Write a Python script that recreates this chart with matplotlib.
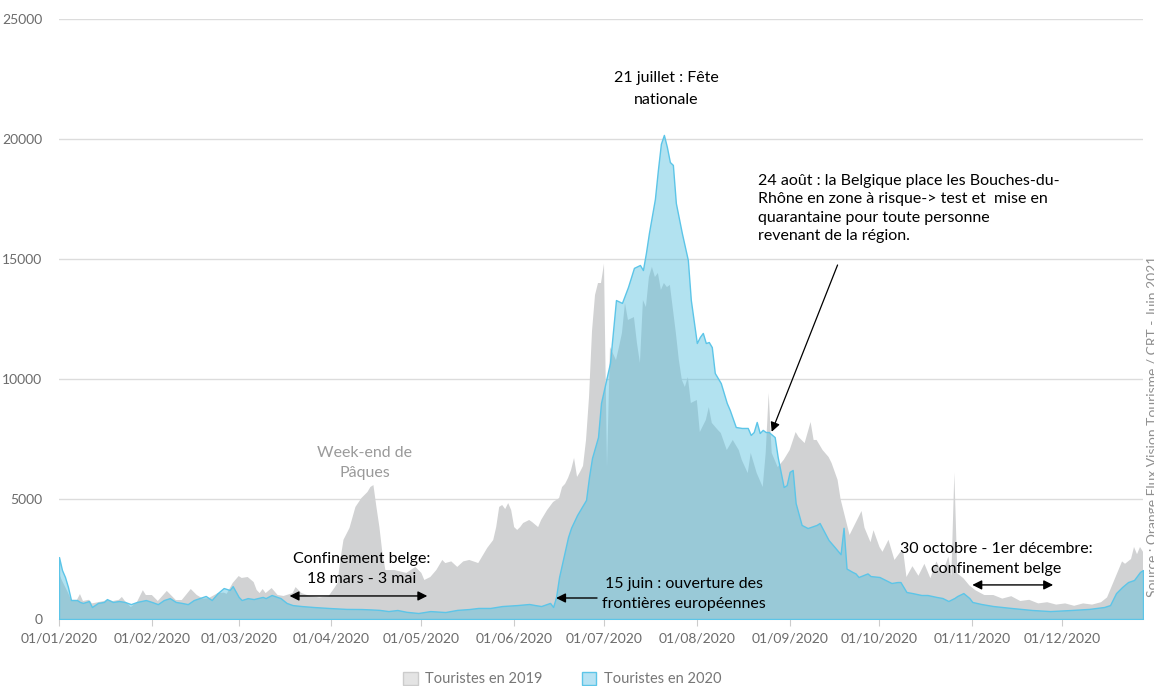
import matplotlib
matplotlib.use("Agg")
import matplotlib.pyplot as plt
import matplotlib.dates as mdates
from matplotlib.colors import to_rgba
from matplotlib.patches import Patch
import pandas as pd

# ---------------- data ----------------
dates_2020 = ["01-01","01-02","01-03","01-04","01-05","01-07","01-08","01-09","01-11","01-12",
              "01-14","01-16","01-17","01-19","01-21","01-23","01-25","01-27","01-30","02-01",
              "02-03","02-05","02-07","02-09","02-11","02-13","02-15","02-19","02-21","02-23",
              "02-25","02-27","02-28","03-01","03-02","03-04","03-06","03-09","03-10","03-12",
              "03-15","03-17","03-19","03-22","03-26","03-31","04-06","04-11","04-14","04-17",
              "04-20","04-23","04-26","04-30","05-04","05-09","05-13","05-17","05-20","05-24",
              "05-28","06-02","06-06","06-08","06-10","06-13","06-14","06-15","06-16","06-19",
              "06-20","06-22","06-24","06-25","06-26","06-27","06-29","06-30","07-03","07-05",
              "07-07","07-09","07-11","07-13","07-14","07-15","07-16","07-18","07-19","07-20",
              "07-21","07-22","07-23","07-24","07-25","07-27","07-29","07-30","08-01","08-02",
              "08-03","08-04","08-05","08-06","08-07","08-09","08-11","08-12","08-14","08-16",
              "08-18","08-19","08-20","08-21","08-22","08-23","08-24","08-25","08-27","08-28",
              "08-30","08-31","09-01","09-02","09-03","09-05","09-07","09-10","09-11","09-14",
              "09-16","09-18","09-19","09-20","09-22","09-23","09-24","09-27","09-28","10-01",
              "10-03","10-05","10-07","10-08","10-10","10-12","10-15","10-17","10-20","10-22",
              "10-24","10-26","10-27","10-29","10-31","11-01","11-04","11-08","11-14","11-21",
              "11-27","12-04","12-10","12-15","12-17","12-19","12-21","12-23","12-25","12-27",
              "12-28"]
tourists_2020 = [2580,2040,1750,1330,790,790,710,670,750,500,
                 670,710,830,710,750,710,620,710,790,710,
                 620,790,870,710,670,620,790,960,790,1080,
                 1290,1210,1370,920,790,870,830,920,870,1000,
                 870,670,580,540,500,460,420,415,400,380,
                 330,375,300,250,330,290,380,415,460,460,
                 540,580,625,580,540,670,500,920,1750,3420,
                 3800,4330,4750,4960,5920,6710,7580,9000,10670,13290,
                 13170,13830,14630,14750,14540,15250,16080,17500,18710,19800,
                 20170,19670,19040,18920,17330,16080,14960,13290,11500,11750,
                 11920,11500,11540,11330,10250,9830,9000,8710,8000,7960,
                 7960,7670,7790,8210,7750,7880,7790,7790,7580,6750,
                 5500,5580,6130,6210,4830,3920,3790,3920,4000,3290,
                 3000,2700,3800,2100,1960,1900,1750,1900,1790,1750,
                 1625,1500,1540,1540,1125,1080,1000,1000,920,875,
                 750,875,960,1080,875,710,625,540,460,375,
                 330,375,420,500,580,1080,1330,1540,1625,1960,
                 2040]

dates_2019 = ["01-01","01-02","01-04","01-05","01-07","01-08","01-09","01-11","01-12","01-14",
              "01-16","01-17","01-19","01-21","01-22","01-23","01-25","01-27","01-29","01-30",
              "02-01","02-03","02-06","02-09","02-11","02-14","02-16","02-18","02-20","02-23",
              "02-25","02-26","02-28","03-01","03-02","03-04","03-06","03-07","03-08","03-09",
              "03-10","03-12","03-14","03-16","03-19","03-20","03-22","03-25","03-28","03-31",
              "04-02","04-03","04-04","04-05","04-07","04-09","04-11","04-13","04-14","04-15",
              "04-16","04-17","04-18","04-19","04-22","04-26","04-29","05-01","05-02","05-04",
              "05-06","05-08","05-09","05-11","05-13","05-15","05-17","05-19","05-20","05-22",
              "05-23","05-25","05-26","05-27","05-28","05-29","05-30","05-31","06-01","06-02",
              "06-03","06-04","06-06","06-07","06-09","06-10","06-12","06-14","06-16","06-17",
              "06-18","06-19","06-20","06-21","06-22","06-23","06-24","06-25","06-26","06-27",
              "06-28","06-29","06-30","07-01","07-02","07-03","07-05","07-06","07-07","07-08",
              "07-09","07-11","07-12","07-13","07-14","07-15","07-16","07-17","07-18","07-19",
              "07-20","07-21","07-22","07-23","07-25","07-26","07-27","07-28","07-29","07-30",
              "08-01","08-02","08-04","08-05","08-06","08-08","08-09","08-11","08-13","08-15",
              "08-16","08-18","08-19","08-21","08-23","08-24","08-25","08-26","08-28","08-30",
              "09-01","09-03","09-04","09-06","09-08","09-09","09-10","09-12","09-14","09-15",
              "09-17","09-18","09-20","09-21","09-23","09-25","09-26","09-28","09-29","10-01",
              "10-02","10-04","10-06","10-08","10-09","10-10","10-12","10-14","10-16","10-18",
              "10-20","10-22","10-24","10-25","10-26","10-27","10-29","10-31","11-02","11-05",
              "11-08","11-11","11-14","11-17","11-20","11-23","11-26","11-29","12-02","12-05",
              "12-08","12-11","12-14","12-16","12-18","12-20","12-21","12-22","12-24","12-25",
              "12-26","12-27","12-28"]
tourists_2019 = [1900,1600,1100,800,800,1040,750,800,650,700,
                 750,800,750,800,920,750,500,700,1200,1000,
                 1000,750,1170,790,790,1250,1000,850,870,1080,
                 1100,1050,1500,1790,1710,1750,1540,1210,1080,1250,
                 1080,1290,1000,960,1080,1330,1080,950,900,950,
                 1300,1500,2500,3300,3790,4670,5040,5290,5500,5580,
                 4670,3830,2750,2040,2040,1920,2170,1920,1625,1750,
                 2040,2460,2330,2400,2170,2400,2460,2375,2330,2750,
                 2960,3290,3830,4670,4750,4580,4830,4540,3830,3710,
                 3830,4000,4125,4040,3830,4125,4540,4875,5040,5500,
                 5630,5880,6210,6710,5920,6130,6380,7460,9250,12000,
                 13500,14000,14000,14800,6330,11330,10790,11330,11920,13170,
                 12460,12580,11500,10670,13290,13000,14250,14670,14250,14420,
                 13710,14000,13830,13920,11920,10790,9960,9670,10080,9000,
                 9125,7790,8290,8830,8170,7880,7750,7040,7460,7040,
                 6630,6080,6920,6080,5500,6920,9420,6920,6330,6630,
                 7040,7790,7580,7330,8210,7460,7460,7040,6750,6500,
                 5800,5000,4000,3500,4000,4500,3800,3200,3700,3000,
                 2800,3300,2460,2800,2750,1750,2200,1800,2300,1700,
                 2400,1900,2600,1800,6100,1900,1700,1400,1200,1000,
                 1000,850,950,750,800,650,700,600,650,550,
                 650,600,700,900,1500,2100,2400,2300,2500,3000,
                 2700,3000,2800]

y_ticks = [0, 5000, 10000, 15000, 20000, 25000]
series_labels = ["Touristes en 2019", "Touristes en 2020"]

# ---------------- style ----------------
GRAY = "#d1d2d3"
BLUE_FILL = to_rgba("#56bfde", 0.45)
BLUE_LINE = "#5cc5e8"
TXT_GRAY = "#6b6b6b"
ANN_FONT = ["Lato", "DejaVu Sans"]
TICK_FONT = ["Lato", "DejaVu Sans"]

def d(s):
    return pd.Timestamp("2020-" + s)

x20 = pd.to_datetime(["2020-" + s for s in dates_2020])
x19 = pd.to_datetime(["2020-" + s for s in dates_2019])

W, H = 1154, 686
fig = plt.figure(figsize=(W / 100, H / 100), dpi=100)
ax = fig.add_axes([59 / W, 1 - 619 / H, (1143 - 59) / W, 600 / H])

ax.fill_between(x19, tourists_2019, 0, facecolor=GRAY, edgecolor="none", lw=0, zorder=2)
ax.fill_between(x20, tourists_2020, 0, facecolor=BLUE_FILL, edgecolor=BLUE_LINE, lw=1.0, zorder=3)

ax.set_xlim(d("01-01"), d("12-28"))
ax.set_ylim(0, 25000)
ax.set_yticks(y_ticks)
ax.set_yticklabels([str(v) for v in y_ticks])
ax.xaxis.set_major_locator(mdates.MonthLocator())
ax.xaxis.set_major_formatter(mdates.DateFormatter("%d/%m/%Y"))

ax.grid(axis="y", color="#dcdcdc", lw=1, zorder=0)
ax.grid(axis="x", visible=False)
ax.set_axisbelow(True)
for sp in ["top", "right", "left"]:
    ax.spines[sp].set_visible(False)
ax.spines["bottom"].set_color("#d8d8d8")
ax.tick_params(axis="x", length=5, color="#cccccc", labelcolor=TXT_GRAY, labelsize=10, pad=5)
ax.tick_params(axis="y", length=0, labelcolor=TXT_GRAY, labelsize=10, pad=12)
for lab in ax.get_xticklabels() + ax.get_yticklabels():
    lab.set_family(TICK_FONT)

# ---------------- annotations ----------------
ann_kw = dict(fontsize=11.5, family=ANN_FONT, color="black", linespacing=1.55)

ax.text(d("07-21") + pd.Timedelta(hours=16), 22080, "21 juillet : Fête\nnationale",
        ha="center", va="center", fontsize=11.5, family=ANN_FONT, color="black", linespacing=1.75)

ax.text(d("04-12"), 6500, "Week-end de\nPâques", ha="center", va="center",
        fontsize=11.5, family=ANN_FONT, color="#9a9a9a", linespacing=1.6)

ax.text(d("04-11"), 2080, "Confinement belge:\n18 mars - 3 mai", ha="center", va="center", **ann_kw)
ax.annotate("", xy=(d("03-18"), 960), xytext=(d("05-03"), 960),
            arrowprops=dict(arrowstyle="<|-|>", color="black", lw=1.0,
                            mutation_scale=14, shrinkA=0, shrinkB=0), zorder=5)

ax.text(d("07-27") + pd.Timedelta(hours=16), 1040, "15 juin : ouverture des\nfrontières européennes",
        ha="center", va="center", **ann_kw)
ax.annotate("", xy=(d("06-15"), 875), xytext=(d("06-28") + pd.Timedelta(hours=16), 875),
            arrowprops=dict(arrowstyle="-|>", color="black", lw=1.0,
                            mutation_scale=14, shrinkA=0, shrinkB=0), zorder=5)

ax.text(d("11-09"), 2500, "30 octobre - 1er décembre:\nconfinement belge",
        ha="center", va="center", **ann_kw)
ax.annotate("", xy=(d("11-01"), 1420), xytext=(d("11-28"), 1420),
            arrowprops=dict(arrowstyle="<|-|>", color="black", lw=1.0,
                            mutation_scale=14, shrinkA=0, shrinkB=0), zorder=5)

ax.text(d("08-21") + pd.Timedelta(hours=12), 18540,
        "24 août : la Belgique place les Bouches-du-\nRhône en zone à risque-> test et  mise en\n"
        "quarantaine pour toute personne\nrevenant de la région.",
        ha="left", va="top", fontsize=11.5, family=ANN_FONT, linespacing=1.4)
ax.annotate("", xy=(d("08-26"), 7800), xytext=(d("09-17"), 14750),
            arrowprops=dict(arrowstyle="-|>", color="black", lw=0.9,
                            mutation_scale=14, shrinkA=0, shrinkB=0), zorder=5)

# source, vertical, partly cut at the right edge (as in the reference)
fig.text(1147 / W, 1 - 597 / H, "Source : Orange Flux Vision Tourisme / CRT - Juin 2021",
         rotation=90, ha="left", va="bottom", fontsize=10, color="#8f8f8f", family=TICK_FONT)

# ---------------- legend ----------------
handles = [Patch(facecolor="#e4e4e4", edgecolor="#cccccc", lw=1),
           Patch(facecolor="#b6e2f3", edgecolor="#5cc5e8", lw=1)]
leg = fig.legend(handles, series_labels, loc="center", bbox_to_anchor=(562 / W, 1 - 679 / H),
                 ncol=2, frameon=False, handlelength=1.0, handleheight=1.0,
                 handletextpad=0.5, columnspacing=2.7, prop={"family": TICK_FONT, "size": 10.5})
for t in leg.get_texts():
    t.set_color("#777777")

fig.savefig("out.png", dpi=100, facecolor="white")
